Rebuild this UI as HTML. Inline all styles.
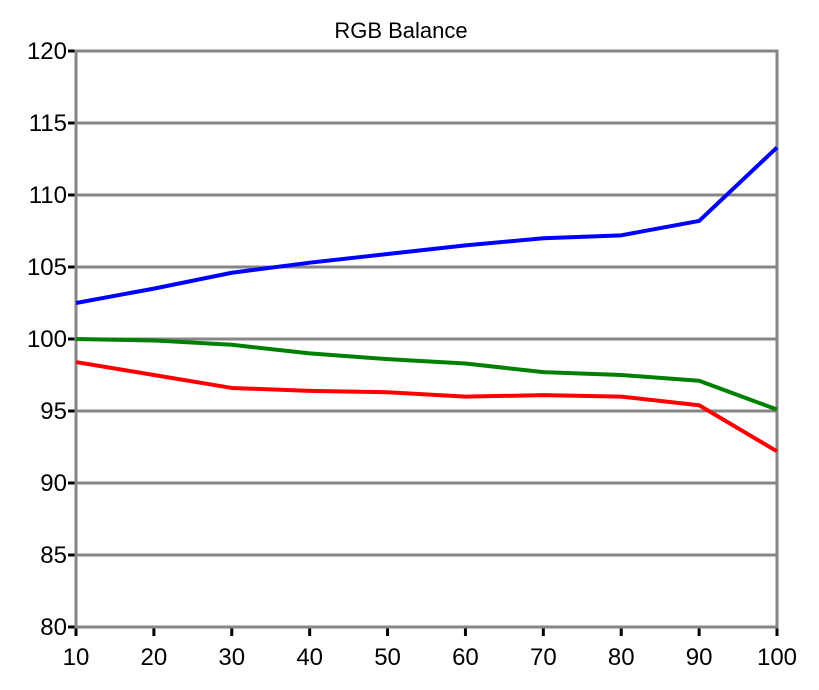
<!DOCTYPE html>
<html><head><meta charset="utf-8"><style>body{margin:0;background:#fff}svg{display:block}text{font-family:"Liberation Sans",sans-serif}</style></head>
<body>
<svg id="chart" width="819" height="690" xmlns="http://www.w3.org/2000/svg">
<text x="401" y="38" text-anchor="middle" font-size="22">RGB Balance</text>
<g id="grid"></g><g id="axes"></g><g id="series"></g>
</svg>
<script>
const categories=[10,20,30,40,50,60,70,80,90,100];
const yTicks=[80,85,90,95,100,105,110,115,120];
const blueValues=[102.5,103.5,104.6,105.3,105.9,106.5,107.0,107.2,108.2,113.3];
const greenValues=[100.0,99.9,99.6,99.0,98.6,98.3,97.7,97.5,97.1,95.1];
const redValues=[98.4,97.5,96.6,96.4,96.3,96.0,96.1,96.0,95.4,92.2];
const X0=76,X1=777,Y0=627,Y1=51;
const xs=v=>X0+(v-10)/90*(X1-X0);
const ys=v=>Y0-(v-80)/40*(Y0-Y1);
const NS="http://www.w3.org/2000/svg";
function mk(p,t,a){const e=document.createElementNS(NS,t);for(const k in a)e.setAttribute(k,a[k]);p.appendChild(e);return e;}
const grid=document.getElementById('grid'),axes=document.getElementById('axes'),ser=document.getElementById('series');
yTicks.forEach(v=>{
 const y=ys(v);
 if(v>80&&v<120){const l=mk(grid,'line',{x1:X0,x2:X1,y1:y,y2:y,stroke:'#868686','stroke-width':3});
 
 }
 const t=mk(axes,'line',{x1:X0-8,x2:X0,y1:y,y2:y,stroke:'#000','stroke-width':3});
 
 
 const tx=mk(axes,'text',{x:X0-9,y:y+8,'text-anchor':'end','font-size':24});
 tx.textContent=v;
 
 
});
categories.forEach(c=>{
 const x=xs(c);
 const t=mk(axes,'line',{x1:x,x2:x,y1:Y0,y2:Y0+9,stroke:'#000','stroke-width':3});
 
 
 const tx=mk(axes,'text',{x:x,y:Y0+38,'text-anchor':'middle','font-size':24});
 tx.textContent=c;
 
 
});
const frame=mk(axes,'rect',{x:X0,y:Y1,width:X1-X0,height:Y0-Y1,fill:'none',stroke:'#868686','stroke-width':3});


[['blue',blueValues,'#0000ff'],['green',greenValues,'#008000'],['red',redValues,'#ff0000']].forEach(([n,vals,col])=>{
 const pts=vals.map((v,i)=>xs(categories[i])+','+ys(v)).join(' ');
 const p=mk(ser,'polyline',{points:pts,fill:'none',stroke:col,'stroke-width':4,'stroke-linejoin':'round'});
 
 
});
</script>
</body></html>
